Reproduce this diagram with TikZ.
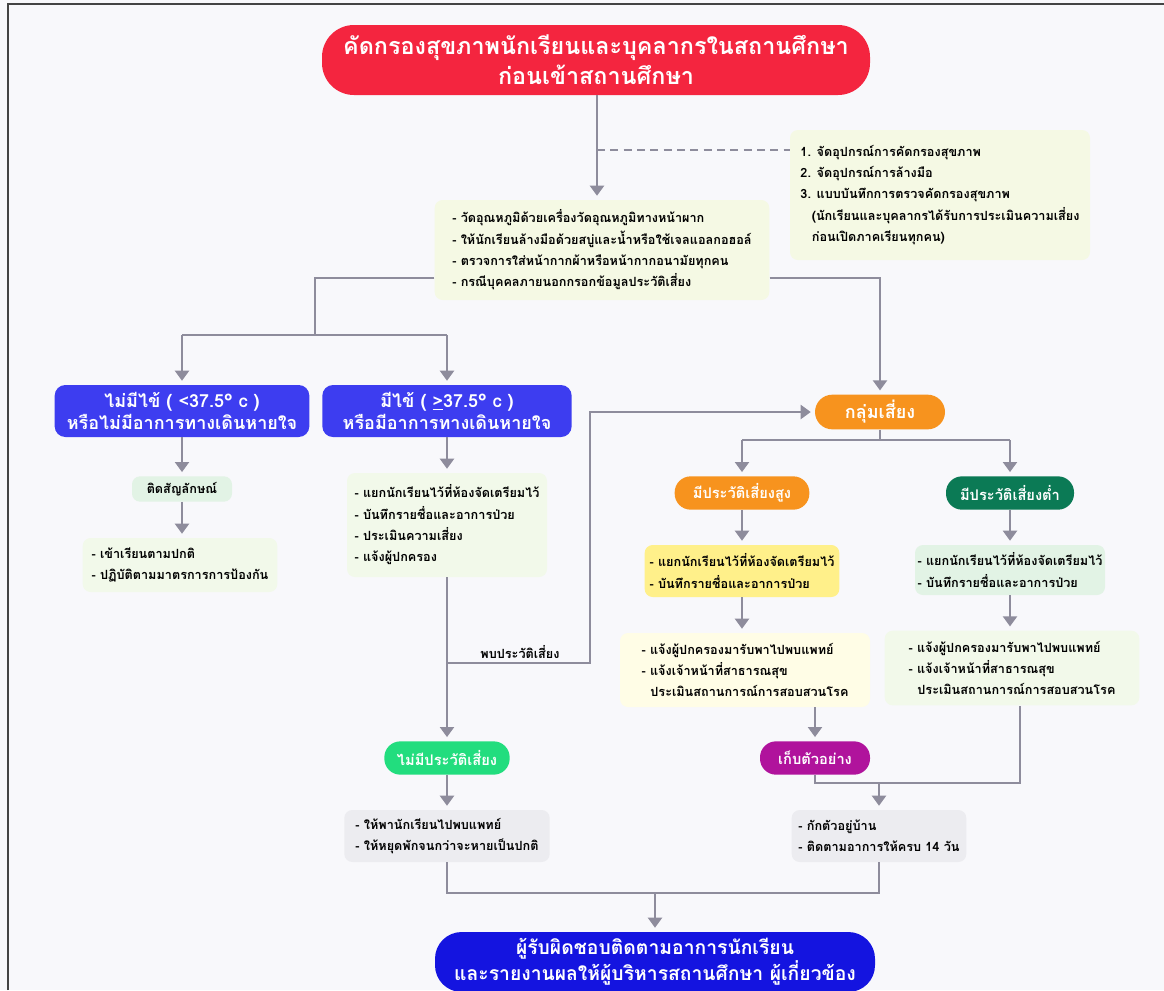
\documentclass[tikz,border=0pt]{standalone}
\usepackage{fontspec}
\usetikzlibrary{arrows.meta}
\newfontfamily\thai[Script=Thai]{Loma}
\definecolor{bgc}{HTML}{F8F8FB}
\definecolor{framec}{HTML}{444444}
\definecolor{linec}{HTML}{8E8C9C}
\definecolor{redc}{HTML}{F4253F}
\definecolor{bluec}{HTML}{3D3DF0}
\definecolor{deepblue}{HTML}{1414E0}
\definecolor{orangec}{HTML}{F7931E}
\definecolor{darkgreen}{HTML}{0B7A55}
\definecolor{brightgreen}{HTML}{22DD7E}
\definecolor{magentac}{HTML}{B0139C}
\definecolor{yellowc}{HTML}{FFF08A}
\definecolor{lightyellow}{HTML}{FFFDE6}
\definecolor{notec}{HTML}{F5F9E4}
\definecolor{palegreen}{HTML}{F2F9EA}
\definecolor{mintc}{HTML}{E2F3E5}
\definecolor{greyc}{HTML}{ECECF0}
\tikzset{
  conn/.style={draw=linec, line width=1.5pt},
  arr/.style={conn, -{Triangle[width=10.5pt,length=7.5pt]}, shorten >=3pt},
  bodyfont/.style={font=\thai\bfseries\fontsize{9.5}{16}\selectfont},
  bulletbox/.style={bodyfont, rounded corners=6pt, align=left, inner sep=0pt, text=black},
  headbox/.style={font=\thai\bfseries\fontsize{13.5}{16.5}\selectfont, text=white, align=center, inner sep=0pt, rounded corners=8pt},
  pill/.style={font=\thai\bfseries\fontsize{11}{14}\selectfont, text=white, align=center, inner sep=0pt, rounded corners=12pt, minimum height=25pt},
  lbl/.style={bodyfont, inner sep=0pt}
}
\begin{document}
\begin{tikzpicture}[x=0.75pt,y=-0.75pt]
\useasboundingbox (0,0) rectangle (1164,990);
\fill[bgc] (0,0) rectangle (1164,990);
\draw[framec, line width=1pt] (8,990) -- (8,4) -- (1164,4);

% nodes
\node[headbox, fill=redc, rounded corners=24pt, minimum width=411pt, minimum height=52.5pt,
      font=\thai\bfseries\fontsize{17.5}{22.5}\selectfont] (title) at (596,60)
      {คัดกรองสุขภาพนักเรียนและบุคลากรในสถานศึกษา\\ก่อนเข้าสถานศึกษา};

\node[bulletbox, fill=notec, minimum width=225pt, minimum height=97.5pt] (note) at (940,195)
  {1. จัดอุปกรณ์การคัดกรองสุขภาพ\\
   2. จัดอุปกรณ์การล้างมือ\\
   3. แบบบันทึกการตรวจคัดกรองสุขภาพ\\
   \hspace*{0.9em}(นักเรียนและบุคลากรได้รับการประเมินความเสี่ยง\\
   \hspace*{0.9em}ก่อนเปิดภาคเรียนทุกคน)};

\node[bulletbox, fill=notec, minimum width=251pt, minimum height=75pt] (cbox) at (602,250)
  {- วัดอุณหภูมิด้วยเครื่องวัดอุณหภูมิทางหน้าผาก\\
   - ให้นักเรียนล้างมือด้วยสบู่และน้ำหรือใช้เจลแอลกอฮอล์\\
   - ตรวจการใส่หน้ากากผ้าหรือหน้ากากอนามัยทุกคน\\
   - กรณีบุคคลภายนอกกรอกข้อมูลประวัติเสี่ยง};

\node[headbox, fill=bluec, minimum width=191pt, minimum height=39pt] (nofever) at (182,411)
  {ไม่มีไข้ ( <37.5° c )\\หรือไม่มีอาการทางเดินหายใจ};
\node[headbox, fill=bluec, minimum width=187pt, minimum height=39pt] (fever) at (447,411)
  {มีไข้ ( \underline{>}37.5° c )\\หรือมีอาการทางเดินหายใจ};

\node[bulletbox, fill=mintc, align=center, minimum width=75pt, minimum height=19pt] (sym) at (182,489)
  {ติดสัญลักษณ์};
\node[bulletbox, fill=palegreen, minimum width=146pt, minimum height=40.5pt] (lbul) at (180,565)
  {- เข้าเรียนตามปกติ\\- ปฏิบัติตามมาตรการการป้องกัน};
\node[bulletbox, fill=palegreen, minimum width=150pt, minimum height=78pt] (mbul) at (447,525)
  {- แยกนักเรียนไว้ที่ห้องจัดเตรียมไว้\\- บันทึกรายชื่อและอาการป่วย\\- ประเมินความเสี่ยง\\- แจ้งผู้ปกครอง};

\node[pill, fill=orangec, minimum width=97.5pt, minimum height=26pt, rounded corners=13pt,
      font=\thai\bfseries\fontsize{13.5}{16}\selectfont] (risk) at (880,412) {กลุ่มเสี่ยง};
\node[pill, fill=orangec, minimum width=101pt] (high) at (742,493) {มีประวัติเสี่ยงสูง};
\node[pill, fill=darkgreen, minimum width=96pt] (low) at (1010,493) {มีประวัติเสี่ยงต่ำ};

\node[bulletbox, fill=yellowc, minimum width=146pt, minimum height=39pt] (ybox) at (742,571)
  {- แยกนักเรียนไว้ที่ห้องจัดเตรียมไว้\\- บันทึกรายชื่อและอาการป่วย};
\node[bulletbox, fill=lightyellow, minimum width=187.5pt, minimum height=55.5pt] (lybox) at (745,670)
  {- แจ้งผู้ปกครองมารับพาไปพบแพทย์\\- แจ้งเจ้าหน้าที่สาธารณสุข\\\hspace*{0.7em}ประเมินสถานการณ์การสอบสวนโรค};
\node[bulletbox, fill=mintc, minimum width=142.5pt, minimum height=37.5pt] (gbox1) at (1010,570)
  {- แยกนักเรียนไว้ที่ห้องจัดเตรียมไว้\\- บันทึกรายชื่อและอาการป่วย};
\node[bulletbox, fill=palegreen, minimum width=191pt, minimum height=56pt] (gbox2) at (1012,668)
  {- แจ้งผู้ปกครองมารับพาไปพบแพทย์\\- แจ้งเจ้าหน้าที่สาธารณสุข\\\hspace*{0.7em}ประเมินสถานการณ์การสอบสวนโรค};

\node[pill, fill=brightgreen, minimum width=94pt] (norisk) at (447,758) {ไม่มีประวัติเสี่ยง};
\node[pill, fill=magentac, minimum width=82.5pt] (sample) at (815,758) {เก็บตัวอย่าง};

\node[bulletbox, fill=greyc, minimum width=154pt, minimum height=39pt] (lgrey) at (447,836)
  {- ให้พานักเรียนไปพบแพทย์\\- ให้หยุดพักจนกว่าจะหายเป็นปกติ};
\node[bulletbox, fill=greyc, minimum width=131pt, minimum height=39pt] (rgrey) at (879,836)
  {- กักตัวอยู่บ้าน\\- ติดตามอาการให้ครบ 14 วัน};

\node[headbox, fill=deepblue, rounded corners=20pt, minimum width=330pt, minimum height=45pt,
      font=\thai\bfseries\fontsize{14.5}{18}\selectfont] (final) at (655,962)
  {ผู้รับผิดชอบติดตามอาการนักเรียน\\และรายงานผลให้ผู้บริหารสถานศึกษา ผู้เกี่ยวข้อง};

% junction coordinates
\coordinate (jD) at (597,150);
\coordinate (jL) at (315,278);
\coordinate (jLL) at (315,335);
\coordinate (jR) at (880,278);
\coordinate (jP) at (447,663);
\coordinate (jP2) at (590,663);
\coordinate (jr) at (880,440);
\coordinate (jg) at (1020,783);
\coordinate (jb) at (655,893);

% connectors
\draw[arr] (title.south -| jD) -- (jD |- cbox.north);
\draw[conn, dashed, dash pattern=on 6pt off 4pt] (jD) -- (note.west |- jD);
\draw[conn] (cbox.west |- jL) -- (jL) -- (jLL);
\draw[conn] (nofever.north |- jLL) -- (fever.north |- jLL);
\draw[arr] (nofever.north |- jLL) -- (nofever.north);
\draw[arr] (fever.north |- jLL) -- (fever.north);
\draw[arr] (cbox.east |- jR) -- (jR) -- (risk.north);

\draw[arr] (nofever.south) -- (sym.north);
\draw[arr] (sym.south) -- (sym.south |- lbul.north);
\draw[arr] (fever.south) -- (mbul.north);
\draw[arr] (mbul.south) -- (norisk.north);
\draw[arr] (jP) -- (jP2) -- (jP2 |- risk.west) -- (risk.west);
\node[lbl] (plabel) at (520,652) {พบประวัติเสี่ยง};

\draw[conn] (risk.south) -- (jr);
\draw[conn] (high.north |- jr) -- (low.north |- jr);
\draw[arr] (high.north |- jr) -- (high.north);
\draw[arr] (low.north |- jr) -- (low.north);
\draw[arr] (high.south) -- (ybox.north);
\draw[arr] (ybox.south) -- (ybox.south |- lybox.north);
\draw[arr] (sample.north |- lybox.south) -- (sample.north);
\draw[arr] (low.south) -- (gbox1.north);
\draw[arr] (gbox1.south) -- (gbox1.south |- gbox2.north);

\draw[conn] (sample.south) -- (sample.south |- jg) -- (jg) -- (jg |- gbox2.south);
\draw[arr] (rgrey.north |- jg) -- (rgrey.north);
\draw[arr] (norisk.south) -- (lgrey.north);
\draw[conn] (lgrey.south) -- (lgrey.south |- jb) -- (rgrey.south |- jb) -- (rgrey.south);
\draw[arr] (jb) -- (jb |- final.north);
\end{tikzpicture}
\end{document}
